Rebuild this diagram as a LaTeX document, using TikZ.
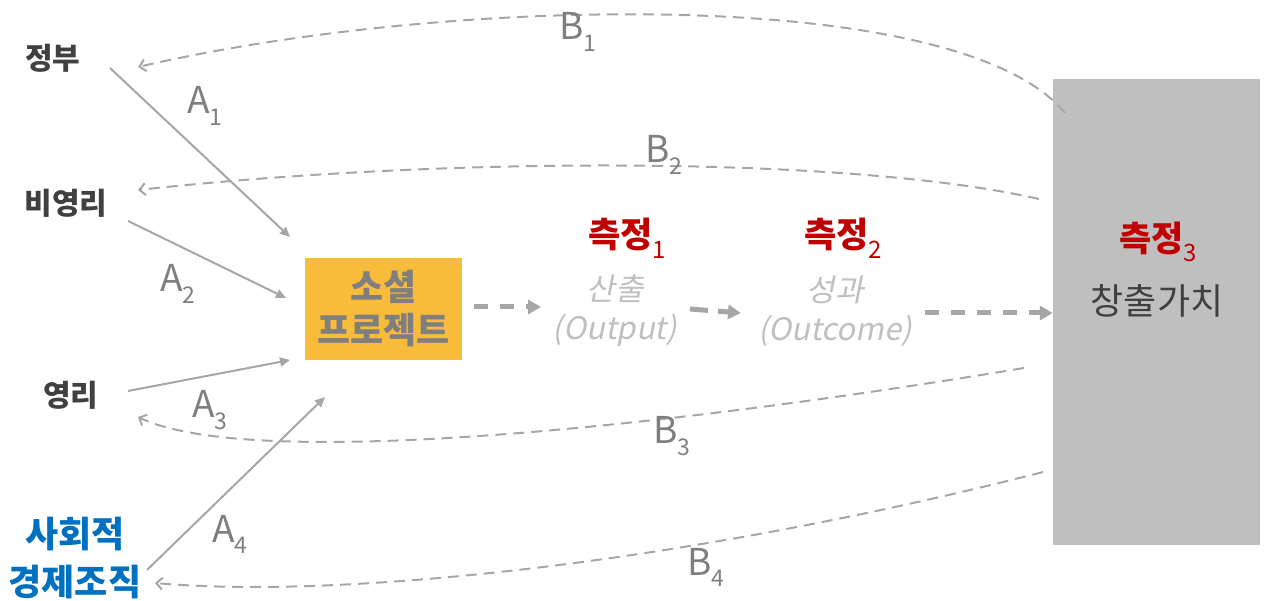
\documentclass[tikz,border=0pt]{standalone}
\usepackage{fontspec}
\setmainfont{Noto Sans CJK KR}
\newfontfamily\slantf{Noto Sans CJK KR}[FakeSlant=0.2]
\usetikzlibrary{arrows.meta}
\definecolor{lgray}{HTML}{A6A6A6}
\definecolor{mgray}{HTML}{7F7F7F}
\definecolor{tgray}{HTML}{BFBFBF}
\definecolor{dgray}{HTML}{404040}
\definecolor{mred}{HTML}{C00000}
\definecolor{mblue}{HTML}{0070C0}
\definecolor{morange}{HTML}{F9BC3A}
\definecolor{boxgray}{HTML}{BFBFBF}
\newcommand{\lab}[2]{#1\raisebox{-0.3em}{\fontsize{23}{23}\selectfont #2}}
\newcommand{\msub}[1]{\raisebox{-0.3em}{\fontsize{24}{24}\selectfont\mdseries #1}}
\tikzset{
  src/.style={inner sep=0pt, font=\fontsize{30}{34}\selectfont\bfseries, text=dgray, align=center},
  thinarrow/.style={draw=lgray, line width=2pt, -{Triangle[length=10pt,width=9pt]}},
  backarrow/.style={draw=lgray, line width=2pt, dash pattern=on 11pt off 7pt, -{Straight Barb[length=6pt,width=12pt,line width=2pt]}},
  flowarrow/.style={draw=lgray, line width=5pt, dash pattern=on 14pt off 12pt, -{Triangle[length=13pt,width=14pt]}},
  lbl/.style={inner sep=0pt, text=mgray, font=\fontsize{37}{37}\selectfont, anchor=base},
  meas/.style={inner sep=0pt, text=mred, font=\fontsize{35}{35}\selectfont\bfseries},
  stage/.style={inner sep=0pt, text=tgray, font=\fontsize{31}{39}\selectfont\slantf, align=center}
}
\begin{document}
\begin{tikzpicture}[x=1pt,y=-1pt]
\useasboundingbox (0,0) rectangle (1264,601);
% boxes
\node[fill=morange, minimum width=157pt, minimum height=102pt, inner sep=0pt,
      text=mgray, font=\fontsize{36}{43}\selectfont\bfseries, align=center] (proj) at (383.5,309) {소셜\\프로젝트};
\node[fill=boxgray, minimum width=207pt, minimum height=466pt, inner sep=0pt] (val) at (1156.5,312) {};
\node[meas] (m3) at (1158,242) {측정\msub{3}};
\node[inner sep=0pt, text=dgray, font=\fontsize{36}{36}\selectfont] (cv) at (1157,301) {창출가치};
% sources
\node[src] (gov) at (53,58) {정부};
\node[src] (npo) at (66,203) {비영리};
\node[src] (fp) at (71,395) {영리};
\node[src, text=mblue, font=\fontsize{36}{48}\selectfont\bfseries] (se) at (75,558) {사회적\\경제조직};
% stages
\node[meas] (m1) at (627,238) {측정\msub{1}};
\node[meas] (m2) at (843,238) {측정\msub{2}};
\node[stage] (out) at (615,311) {산출\\(Output)};
\node[stage] (oc) at (835,311) {성과\\(Outcome)};
% coordinates
\coordinate (a1s) at (110,68);  \coordinate (a1e) at (290,237);
\coordinate (a2s) at (128,221); \coordinate (a2e) at (286,298);
\coordinate (a3s) at (128,391); \coordinate (a3e) at (290,360);
\coordinate (a4s) at (147,570); \coordinate (a4e) at (325,397);
\coordinate (b1s) at (1065,113); \coordinate (b1e) at (138,67);
\coordinate (b2s) at (1039,199); \coordinate (b2e) at (138,190);
\coordinate (b3s) at (1024,368); \coordinate (b3e) at (138,417);
\coordinate (b4s) at (1043,472); \coordinate (b4e) at (155,583);
\coordinate (f1s) at (474,307); \coordinate (f1e) at (541,307);
\coordinate (f2s) at (690,309); \coordinate (f2e) at (741,313);
\coordinate (f3s) at (925,313); \coordinate (f3e) at (val.west |- f3s);
% A arrows
\draw[thinarrow] (a1s) -- (a1e);
\draw[thinarrow] (a2s) -- (a2e);
\draw[thinarrow] (a3s) -- (a3e);
\draw[thinarrow] (a4s) -- (a4e);
% B arrows
\draw[backarrow] (b1s) .. controls (960,-15) and (450,-5) .. (b1e);
\draw[backarrow] (b2s) .. controls (850,156) and (450,156) .. (b2e);
\draw[backarrow] (b3s) .. controls (650,430) and (250,470) .. (b3e);
\draw[backarrow] (b4s) .. controls (700,560) and (350,600) .. (b4e);
% flow arrows
\draw[flowarrow] (f1s) -- (f1e);
\draw[flowarrow, dash pattern=on 18pt off 10pt] (f2s) -- (f2e);
\draw[flowarrow] (f3s) -- (f3e);
% labels
\node[lbl] (la1) at (205,114) {\lab{A}{1}};
\node[lbl] (la2) at (178,292) {\lab{A}{2}};
\node[lbl] (la3) at (210,418) {\lab{A}{3}};
\node[lbl] (la4) at (230,542) {\lab{A}{4}};
\node[lbl] (lb1) at (578,40) {\lab{B}{1}};
\node[lbl] (lb2) at (664,163) {\lab{B}{2}};
\node[lbl] (lb3) at (672,444) {\lab{B}{3}};
\node[lbl] (lb4) at (706,575) {\lab{B}{4}};
\end{tikzpicture}
\end{document}
